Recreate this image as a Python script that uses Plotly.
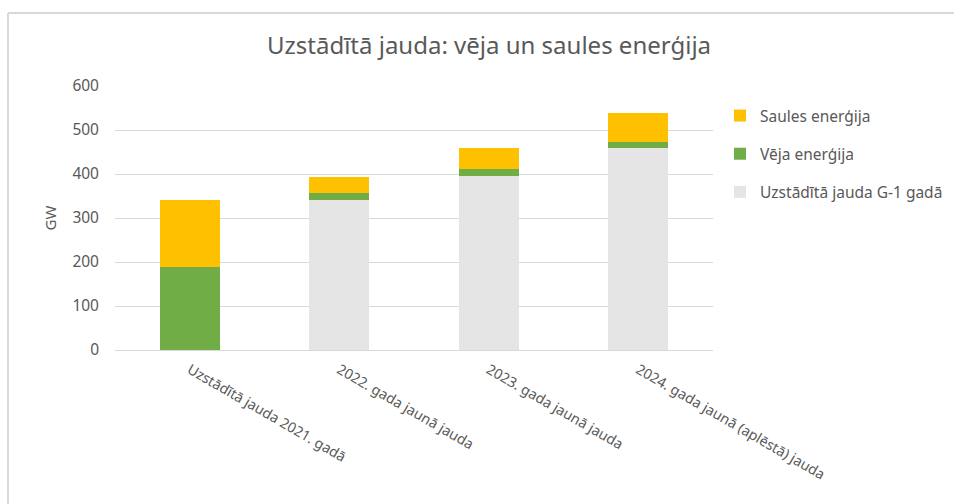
import plotly.graph_objects as go

categories = ["Uzstādītā jauda 2021. gadā", "2022. gada jaunā jauda",
              "2023. gada jaunā jauda", "2024. gada jaunā (aplēstā) jauda"]
base_prev = [0, 341, 395, 459]
wind = [188, 16, 16, 14]
solar = [153, 37, 48, 66]
y_ticks = [0, 100, 200, 300, 400, 500, 600]

W, H = 954, 504
L, R, T, B = 115, 713, 86, 350
txt = "#595959"
font = "Noto Sans"

fig = go.Figure()
fig.add_trace(go.Bar(x=categories, y=base_prev, name="Uzstādītā jauda G-1 gadā",
                     marker=dict(color="#E5E5E5", line=dict(width=0)),
                     legendgroup="a", legendrank=3))
fig.add_trace(go.Bar(x=categories, y=wind, name="Vēja enerģija",
                     marker=dict(color="#70AD47", line=dict(width=0)),
                     legendgroup="b", legendrank=2))
fig.add_trace(go.Bar(x=categories, y=solar, name="Saules enerģija",
                     marker=dict(color="#FFC000", line=dict(width=0)),
                     legendgroup="c", legendrank=1))

def px_x(p):
    return (p - L) / (R - L)

def px_y(p):
    return (B - p) / (B - T)

fig.update_layout(
    width=W, height=H,
    margin=dict(l=L, r=W - R, t=T, b=H - B, autoexpand=False),
    barmode="stack", bargap=0.6,
    plot_bgcolor="white", paper_bgcolor="white",
    font=dict(family=font, color=txt, size=13),
    title=dict(text="Uzstādītā jauda: vēja un saules enerģija",
               x=px_x(489), xref="paper", xanchor="center",
               y=1 - 46 / H, yanchor="middle", yref="container",
               font=dict(size=24, color=txt, family=font)),
    xaxis=dict(tickangle=30, showgrid=False, showline=False, ticks="",
               ticklabelstandoff=8,
               tickfont=dict(size=14.2, color=txt)),
    yaxis=dict(range=[0, 600], tickvals=y_ticks, showgrid=True, gridcolor="#D9D9D9",
               gridwidth=1, zeroline=True, zerolinecolor="#D9D9D9", zerolinewidth=1,
               showline=False, ticks="", ticklabelstandoff=15,
               tickfont=dict(size=15.5, color=txt),
               title=dict(text="GW", standoff=12, font=dict(size=15, color=txt))),
    legend=dict(x=px_x(720), y=px_y(99), xanchor="left", yanchor="top",
                traceorder="grouped", tracegroupgap=15,
                font=dict(size=15.5, color=txt), bgcolor="rgba(0,0,0,0)"),
    showlegend=True,
)

fig.add_shape(type="line", xref="paper", yref="paper",
              x0=px_x(8), x1=px_x(960), y0=px_y(13), y1=px_y(13),
              line=dict(color="#D9D9D9", width=2))
fig.add_shape(type="line", xref="paper", yref="paper",
              x0=px_x(8), x1=px_x(8), y0=px_y(13), y1=px_y(510),
              line=dict(color="#D9D9D9", width=2))

fig.write_html("out.html")
